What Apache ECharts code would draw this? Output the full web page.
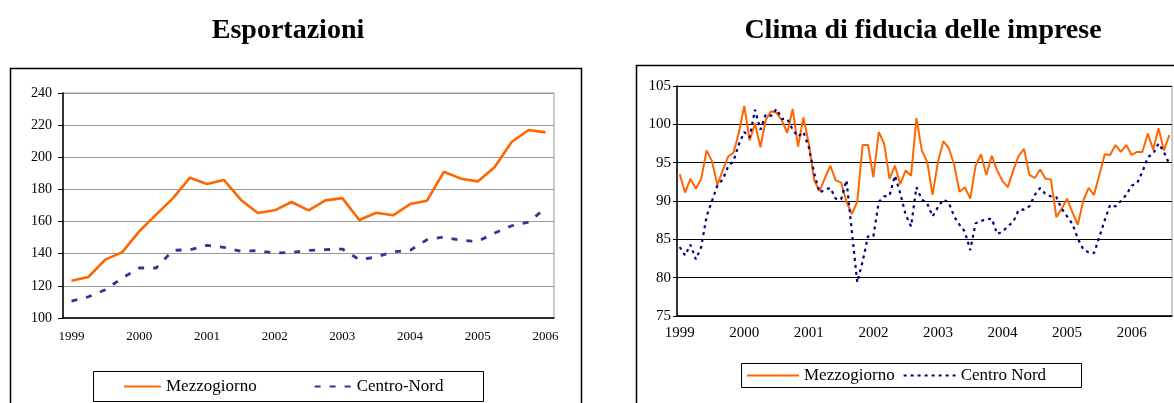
<!DOCTYPE html>
<html><head><meta charset="utf-8">
<script src="https://cdn.jsdelivr.net/npm/echarts@6/dist/echarts.min.js"></script>
<style>html,body{margin:0;padding:0;background:#fff}#c{width:1174px;height:403px}</style>
</head><body><div id="c"></div>
<script>
// ---- Esportazioni (quarterly, 1999 Q1 - 2006 Q1)
const expCategories = [];
for (let y = 1999; y <= 2006; y++) for (let q = 1; q <= 4; q++) if (!(y === 2006 && q > 1)) expCategories.push(y + '-T' + q);
const expMezzogiorno = [123.2,125.5,136.3,141.0,153.9,164.3,174.6,187.3,183.4,185.9,173.6,165.3,167.0,172.2,167.0,173.2,174.6,161.0,165.5,163.9,170.9,173.0,191.0,186.7,185.0,194.0,209.5,217.0,215.5];
const expCentroNord = [110.5,113.2,117.6,124.9,131.1,131.1,142.1,142.5,145.2,144.0,141.5,141.9,140.4,140.8,142.1,142.5,142.9,136.3,137.9,141.2,142.1,148.7,150.4,148.3,147.7,152.9,157.4,159.7,168.4];
const expYTicks = {min:100, max:240, interval:20};

// ---- Clima di fiducia (monthly, 1999-01 - 2006-08)
const climaCategories = [];
for (let y = 1999; y <= 2006; y++) for (let m = 1; m <= 12; m++) if (!(y === 2006 && m > 8)) climaCategories.push(y + '-' + String(m).padStart(2,'0'));
const climaMezzogiorno = [93.5,91.1,92.9,91.6,92.9,96.6,95.2,92.1,94.0,95.8,96.3,98.9,
 102.4,97.9,100.1,97.0,100.6,101.7,101.5,100.5,98.9,102.0,97.1,100.9,
 97.5,92.7,91.3,93.0,94.6,92.7,92.4,89.9,88.3,89.9,97.3,97.3,
 93.1,99.0,97.5,92.9,94.6,92.2,94.0,93.3,100.8,96.6,95.1,90.8,
 95.1,97.8,96.9,94.8,91.2,91.8,90.3,94.6,96.1,93.4,95.9,94.0,
 92.6,91.8,94.0,95.9,96.8,93.4,93.0,94.1,92.9,92.8,87.9,89.0,
 90.3,88.5,86.9,90.0,91.7,90.8,93.4,96.1,96.0,97.3,96.4,97.3,
 96.0,96.4,96.4,98.8,96.7,99.5,96.6,98.6];
const climaCentroNord = [84.0,82.9,84.3,82.4,84.0,88.0,90.0,92.0,92.8,94.5,95.2,97.4,
 99.0,98.3,101.9,99.3,101.3,101.1,102.0,100.7,100.7,99.3,98.4,99.0,
 97.0,93.6,91.1,91.5,91.7,90.3,90.2,92.7,86.0,79.4,82.1,85.4,
 85.4,89.9,90.6,90.7,93.3,91.0,88.2,86.7,91.8,90.2,89.7,88.0,
 89.2,90.2,89.8,88.0,86.9,86.0,83.6,87.1,87.4,87.6,87.7,85.7,
 86.0,86.7,87.3,88.8,88.9,89.3,90.8,91.7,90.9,90.6,90.5,89.0,
 88.0,87.0,85.1,83.7,83.3,83.2,85.3,87.5,89.5,89.3,90.0,90.8,
 92.0,92.3,93.8,95.7,96.2,97.5,96.4,94.8];
const climaYTicks = {min:75, max:105, interval:5};

const FONT = "'Liberation Serif','Times New Roman',serif";
const chart = echarts.init(document.getElementById('c'), null, {renderer:'canvas'});
const txt = (s) => ({fontFamily: FONT, fontSize: s, color: '#000'});

chart.setOption({
  animation: false,
  backgroundColor: '#fff',
  title: [
    {text: 'Esportazioni', left: 283, top: 12, textAlign: 'center', textStyle: {fontFamily: FONT, fontSize: 28, fontWeight: 'bold', color: '#000'}},
    {text: 'Clima di fiducia delle imprese', left: 918, top: 12, textAlign: 'center', textStyle: {fontFamily: FONT, fontSize: 28, fontWeight: 'bold', color: '#000'}}
  ],
  graphic: [
    {type: 'rect', shape: {x: 10.5, y: 68.5, width: 571, height: 400}, style: {fill: 'none', stroke: '#000', lineWidth: 1.5}, z: -1},
    {type: 'rect', shape: {x: 636.5, y: 65.5, width: 600, height: 400}, style: {fill: 'none', stroke: '#000', lineWidth: 1.5}, z: -1},
    {type: 'rect', shape: {x: 93.5, y: 371.5, width: 390, height: 30}, style: {fill: 'none', stroke: '#000', lineWidth: 1}},
    {type: 'rect', shape: {x: 741.5, y: 363.5, width: 340, height: 24}, style: {fill: 'none', stroke: '#000', lineWidth: 1}}
  ],
  legend: [
    {data: ['Mezzogiorno', 'Centro-Nord'], left: 123, top: 378, itemWidth: 37, itemHeight: 14, itemGap: 57, padding: 0,
     itemStyle: {opacity: 0}, textStyle: {fontFamily: FONT, fontSize: 17, color: '#000'}},
    {data: ['Mezzogiorno ', 'Centro Nord'], left: 746, top: 367, itemWidth: 52, itemHeight: 14, itemGap: 8, padding: 0,
     itemStyle: {opacity: 0}, textStyle: {fontFamily: FONT, fontSize: 17, color: '#000'}, formatter: (n) => n.trim()}
  ],
  grid: [
    {left: 63, top: 93, right: 620, bottom: 85, show: true, borderColor: '#999', borderWidth: 1},
    {left: 677, top: 86, right: 2, bottom: 87, show: true, borderColor: '#999', borderWidth: 1}
  ],
  xAxis: [
    {type: 'category', gridIndex: 0, data: expCategories, boundaryGap: true,
     axisLine: {lineStyle: {color: '#000', width: 1.5}},
     axisTick: {interval: 0, length: 5, lineStyle: {color: '#000'}},
     axisLabel: {interval: (i) => i % 4 === 0, formatter: (v) => v.slice(0, 4), margin: 12, ...txt(13)}},
    {type: 'category', gridIndex: 1, data: climaCategories, boundaryGap: true,
     axisLine: {lineStyle: {color: '#000', width: 1.5}},
     axisTick: {interval: 0, length: 4, lineStyle: {color: '#000'}},
     axisLabel: {interval: (i) => i % 12 === 0, formatter: (v) => v.slice(0, 4), margin: 10, ...txt(15)}}
  ],
  yAxis: [
    {type: 'value', gridIndex: 0, min: expYTicks.min, max: expYTicks.max, interval: expYTicks.interval,
     axisLine: {show: true, lineStyle: {color: '#000', width: 1.5}},
     axisTick: {show: true, length: 5, lineStyle: {color: '#000'}},
     splitLine: {lineStyle: {color: '#999', width: 1}},
     axisLabel: {margin: 11, ...txt(14)}},
    {type: 'value', gridIndex: 1, min: climaYTicks.min, max: climaYTicks.max, interval: climaYTicks.interval,
     axisLine: {show: true, lineStyle: {color: '#000', width: 1.5}},
     axisTick: {show: true, length: 4, lineStyle: {color: '#000'}},
     splitLine: {lineStyle: {color: '#000', width: 1}},
     axisLabel: {margin: 6, ...txt(15)}}
  ],
  series: [
    {name: 'Mezzogiorno', type: 'line', xAxisIndex: 0, yAxisIndex: 0, data: expMezzogiorno, symbol: 'none',
     lineStyle: {color: '#FF6600', width: 2.6}, itemStyle: {color: '#FF6600'}},
    {name: 'Centro-Nord', type: 'line', xAxisIndex: 0, yAxisIndex: 0, data: expCentroNord, symbol: 'none',
     lineStyle: {color: '#333399', width: 2.8, type: [6, 9]}, itemStyle: {color: '#333399'}},
    {name: 'Mezzogiorno ', type: 'line', xAxisIndex: 1, yAxisIndex: 1, data: climaMezzogiorno, symbol: 'none',
     lineStyle: {color: '#FF6600', width: 2}, itemStyle: {color: '#FF6600'}},
    {name: 'Centro Nord', type: 'line', xAxisIndex: 1, yAxisIndex: 1, data: climaCentroNord, symbol: 'none',
     lineStyle: {color: '#000080', width: 2.2, type: [3, 4]}, itemStyle: {color: '#000080'}}
  ]
});
</script></body></html>
